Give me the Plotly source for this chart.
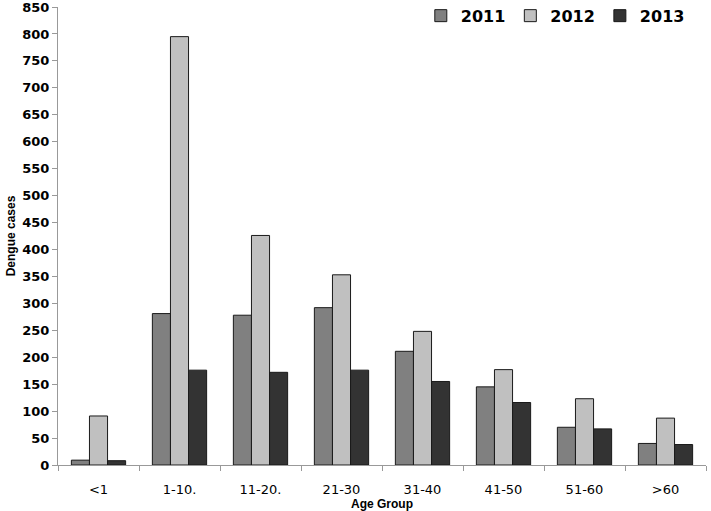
import plotly.graph_objects as go

# Dengue cases by age group
age_groups = ["<1", "1-10.", "11-20.", "21-30", "31-40", "41-50", "51-60", ">60"]
cases_2011 = [9, 281, 278, 292, 211, 145, 70, 40]
cases_2012 = [91, 795, 426, 353, 248, 177, 123, 87]
cases_2013 = [8, 176, 172, 176, 155, 116, 67, 38]

series = [("2011", cases_2011, "#808080"),
          ("2012", cases_2012, "#c0c0c0"),
          ("2013", cases_2013, "#333333")]

fig = go.Figure()
for name, vals, color in series:
    fig.add_trace(go.Bar(x=age_groups, y=vals, name=name,
                         marker=dict(color=color, line=dict(color="#1a1a1a", width=1))))

fig.update_layout(
    width=711, height=511,
    margin=dict(l=58, r=5, t=7, b=46, autoexpand=False),
    plot_bgcolor="white", paper_bgcolor="white",
    barmode="group", bargap=0.33, bargroupgap=0,
    font=dict(family="DejaVu Sans", color="black"),
    legend=dict(orientation="h", x=0.975, xanchor="right", y=1.018, yanchor="top",
                font=dict(family="DejaVu Sans", size=16, weight="bold"),
                itemwidth=30, bgcolor="rgba(0,0,0,0)"),
    showlegend=True,
)
fig.update_xaxes(
    automargin=False,
    showline=True, linecolor="#999999", linewidth=1,
    ticks="outside", tickson="boundaries", ticklen=5, tickcolor="#999999",
    ticklabelstandoff=12,
    tickfont=dict(family="DejaVu Sans", size=13),
    title=dict(text="Age Group", font=dict(family="Liberation Sans", size=12, weight="bold"),
               standoff=0),
)
fig.update_yaxes(
    automargin=False, ticklabeloverflow="allow",
    range=[0, 850.01], tickvals=list(range(0, 851, 50)), showgrid=False, zeroline=False,
    showline=True, linecolor="#999999", linewidth=1,
    ticks="outside", ticklen=5, tickcolor="#999999",
    tickfont=dict(family="DejaVu Sans", size=13, weight="bold"),
    title=dict(text="Dengue cases", font=dict(family="Liberation Sans", size=12, weight="bold"),
               standoff=4),
)

# drop the browser's default body margin so the figure sits at the page corner
fig.write_html("out.html", config={"displayModeBar": False},
               post_script="document.body.style.margin = '0';")
